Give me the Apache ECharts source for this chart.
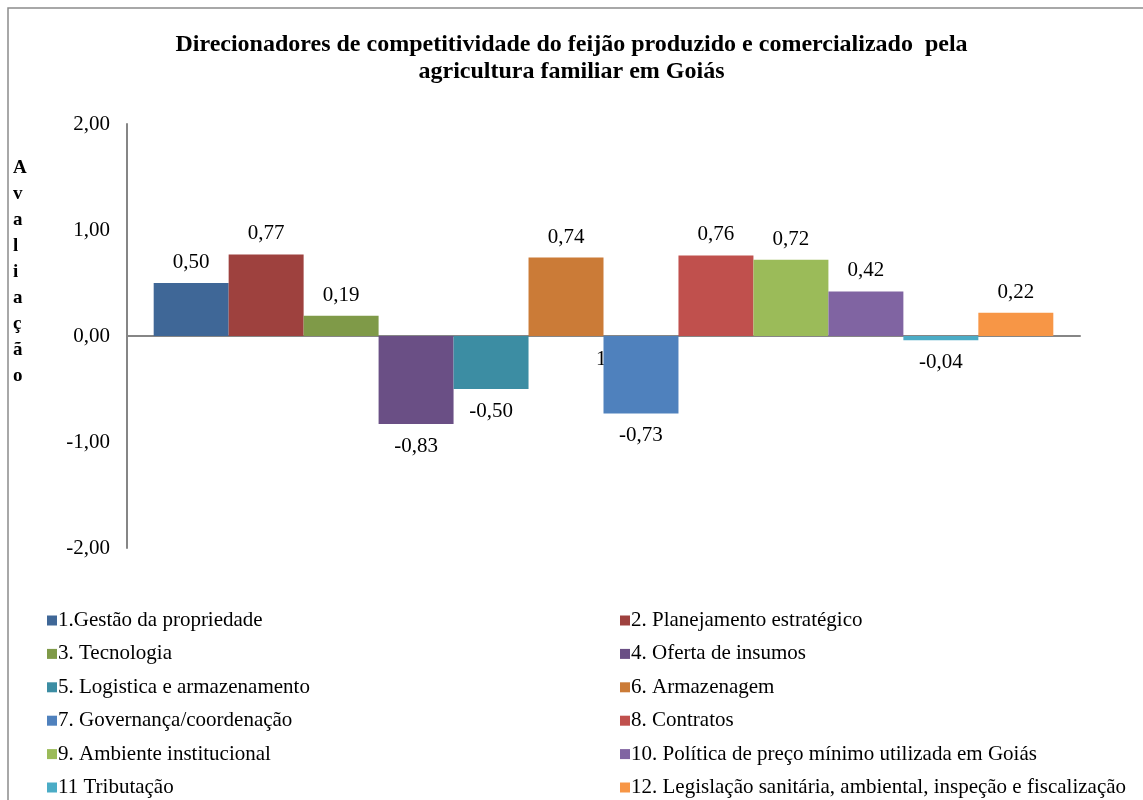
<!DOCTYPE html>
<html>
<head>
<meta charset="utf-8">
<script src="https://cdn.jsdelivr.net/npm/echarts@6/dist/echarts.min.js"></script>
<style>
  html, body { margin: 0; padding: 0; background: #fff; }
  #chart { width: 1143px; height: 800px; }
</style>
</head>
<body>
<div id="chart"></div>
<script>
const FONT = '"Liberation Serif", "Times New Roman", serif';

const seriesNames = [
  '1.Gestão da propriedade',
  '2. Planejamento estratégico',
  '3. Tecnologia',
  '4. Oferta de insumos',
  '5. Logistica e armazenamento',
  '6. Armazenagem',
  '7. Governança/coordenação',
  '8. Contratos',
  '9. Ambiente institucional',
  '10. Política de preço mínimo utilizada em Goiás',
  '11 Tributação',
  '12. Legislação sanitária, ambiental, inspeção e fiscalização'
];
const seriesValues = [0.50, 0.77, 0.19, -0.83, -0.50, 0.74, -0.73, 0.76, 0.72, 0.42, -0.04, 0.22];
const seriesColors = [
  '#3f6797', '#9e413e', '#7f9a48', '#6a4f85', '#3c8da3', '#cb7b37',
  '#4f81bd', '#c0504d', '#9bbb59', '#8064a2', '#4bacc6', '#f79646'
];
const yTicks = { min: -2, max: 2, interval: 1 };
const axisNameLetters = ['A', 'v', 'a', 'l', 'i', 'a', 'ç', 'ã', 'o'];

const fmt = (v) => v.toFixed(2).replace('.', ',');

const chart = echarts.init(document.getElementById('chart'));

const series = seriesNames.map((name, i) => ({
  name,
  type: 'bar',
  barGap: '0%',
  barCategoryGap: '5.6%',
  itemStyle: { color: seriesColors[i] },
  label: {
    show: true,
    position: seriesValues[i] >= 0 ? 'top' : 'bottom',
    distance: seriesValues[i] >= 0 ? 10 : 12,
    formatter: (p) => fmt(p.value),
    fontFamily: FONT,
    fontSize: 21,
    color: '#000'
  },
  data: [seriesValues[i]]
}));

const legendBase = {
  orient: 'vertical',
  itemWidth: 10,
  itemHeight: 10,
  itemGap: 12.4,
  icon: 'rect',
  top: 610,
  height: 200,
  padding: 0,
  textStyle: { fontFamily: FONT, fontSize: 21, color: '#000', lineHeight: 21, padding: [0, 0, 0, -4] }
};

chart.setOption({
  animation: false,
  title: {
    text: 'Direcionadores de competitividade do feijão produzido e comercializado  pela\nagricultura familiar em Goiás',
    left: 'center',
    top: 26,
    textStyle: { fontFamily: FONT, fontSize: 24, fontWeight: 'bold', color: '#000', lineHeight: 27 }
  },
  legend: [
    Object.assign({}, legendBase, { left: 47, data: seriesNames.filter((_, i) => i % 2 === 0) }),
    Object.assign({}, legendBase, { left: 620, data: seriesNames.filter((_, i) => i % 2 === 1) })
  ],
  grid: { left: 127, right: 63, top: 124, bottom: 252, containLabel: false },
  xAxis: {
    type: 'category',
    data: [''],
    axisLine: { onZero: true, lineStyle: { color: '#868686', width: 2 } },
    axisTick: { show: false },
    axisLabel: { show: false }
  },
  yAxis: {
    type: 'value',
    min: yTicks.min,
    max: yTicks.max,
    interval: yTicks.interval,
    axisLine: { show: true, lineStyle: { color: '#868686', width: 2 } },
    axisTick: { show: false },
    splitLine: { show: false },
    axisLabel: { formatter: fmt, fontFamily: FONT, fontSize: 21, color: '#000', margin: 17 }
  },
  graphic: [
    {
      type: 'rect',
      shape: { x: 8, y: 8, width: 1150, height: 810 },
      style: { fill: 'none', stroke: '#8c8c8c', lineWidth: 1.5 },
      silent: true
    },
    {
      type: 'text',
      left: 13,
      top: 155,
      style: {
        text: axisNameLetters.join('\n'),
        font: 'bold 19px ' + FONT,
        lineHeight: 26,
        align: 'center',
        fill: '#000',
        width: 19
      }
    },
    {
      type: 'text',
      left: 596,
      top: 349,
      style: { text: '1', font: '21px ' + FONT, fill: '#000' }
    }
  ],
  series
});
</script>
</body>
</html>
